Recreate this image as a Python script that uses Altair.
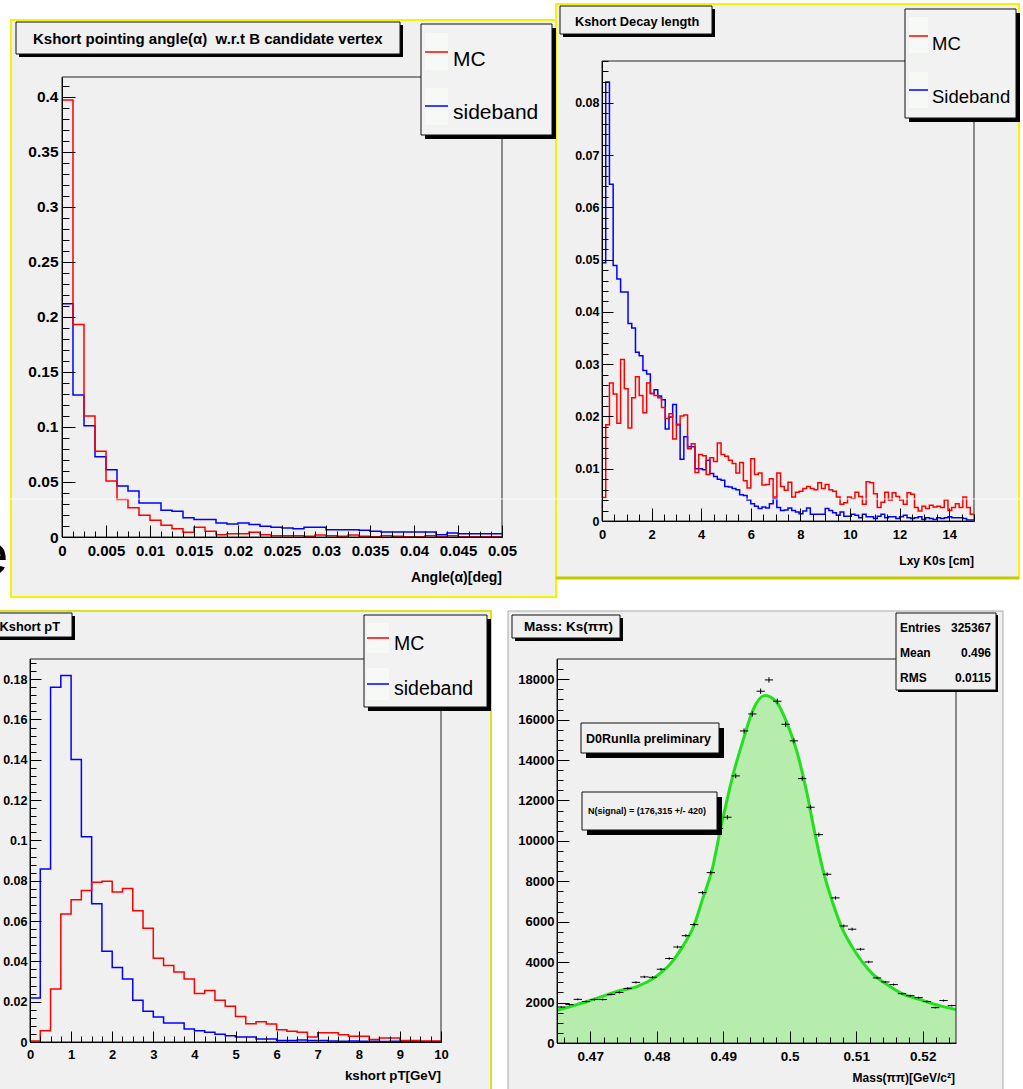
import altair as alt
import numpy as np
import pandas as pd

W, H = 1023, 1089
FONT = "Liberation Sans, Arial, sans-serif"
BG = "#f0f0f0"
YEL = "#f4f400"

# ---------------- Panel 1: Kshort pointing angle ----------------
P1_LO, P1_BIN = 0.0, 0.00125
p1_mc = [0.397, 0.193, 0.110, 0.078, 0.051, 0.034, 0.0265, 0.0198, 0.0152, 0.0107,
         0.0076, 0.0043, 0.0088, 0.0052, 0.0021, 0.0030, 0.0030, 0.0043, 0.0020, 0.0012,
         0.0012, 0.0012, 0.0006, 0.0018, 0.0012, 0.0006, 0.0018, 0.0006, 0.0003, 0.0012,
         0.0006, 0.0003, 0.0003, 0.0012, 0.0003, 0.0012, 0.0003, 0.0003, 0.0003, 0.0003]
p1_sb = [0.212, 0.129, 0.101, 0.073, 0.061, 0.0463, 0.0418, 0.031, 0.031, 0.0244,
         0.0235, 0.0174, 0.0159, 0.0159, 0.0128, 0.0119, 0.0128, 0.0113, 0.0098, 0.0088,
         0.0082, 0.0076, 0.0088, 0.0088, 0.0067, 0.0067, 0.0067, 0.0061, 0.0052, 0.0046,
         0.0046, 0.0046, 0.0046, 0.0046, 0.0021, 0.0037, 0.0030, 0.0030, 0.0030, 0.0030]
p1_xticks = [0, 0.005, 0.01, 0.015, 0.02, 0.025, 0.03, 0.035, 0.04, 0.045, 0.05]
p1_yticks = [0, 0.05, 0.1, 0.15, 0.2, 0.25, 0.3, 0.35, 0.4]
p1_xminor = np.round(np.arange(0, 0.05001, 0.00125), 6).tolist()
p1_yminor = np.round(np.arange(0, 0.4101, 0.01), 6).tolist()

# ---------------- Panel 2: Kshort decay length ----------------
P2_LO, P2_BIN = 0.0, 0.15
p2_mc = [0.0045, 0.0184, 0.0264, 0.0243, 0.0187, 0.0309, 0.0253, 0.0178, 0.0236, 0.0276,
         0.0240, 0.0207, 0.0264, 0.0244, 0.0240, 0.0236, 0.0217, 0.0196, 0.0205, 0.0157,
         0.0185, 0.0201, 0.0203, 0.0138, 0.0148, 0.0093, 0.0127, 0.0125, 0.0089, 0.0121,
         0.0114, 0.0149, 0.0127, 0.0124, 0.0116, 0.0110, 0.0092, 0.0112, 0.0077, 0.0063,
         0.0119, 0.0089, 0.0092, 0.0069, 0.0070, 0.0081, 0.0046, 0.0092, 0.0066, 0.0059,
         0.0074, 0.0046, 0.0055, 0.0057, 0.0062, 0.0066, 0.0062, 0.0060, 0.0073, 0.0062,
         0.0070, 0.0060, 0.0057, 0.0046, 0.0032, 0.0035, 0.0046, 0.0043, 0.0055, 0.0047,
         0.0032, 0.0075, 0.0073, 0.0052, 0.0026, 0.0036, 0.0055, 0.0040, 0.0054, 0.0047,
         0.0040, 0.0032, 0.0054, 0.0051, 0.0026, 0.0019, 0.0028, 0.0024, 0.0030, 0.0027,
         0.0028, 0.0026, 0.0040, 0.0020, 0.0026, 0.0033, 0.0026, 0.0046, 0.0026, 0.0013]
p2_sb = [0.0494, 0.0840, 0.0644, 0.0489, 0.0463, 0.0438, 0.0438, 0.0378, 0.0369, 0.0323,
         0.0316, 0.0288, 0.0281, 0.0244, 0.0251, 0.0239, 0.0232, 0.0176, 0.0199, 0.0223,
         0.0184, 0.0118, 0.0161, 0.0142, 0.0142, 0.0100, 0.0100, 0.0098, 0.0116, 0.0091,
         0.0085, 0.0080, 0.0078, 0.0066, 0.0065, 0.0062, 0.0060, 0.0050, 0.0049, 0.0040,
         0.0033, 0.0028, 0.0024, 0.0027, 0.0025, 0.0033, 0.0043, 0.0026, 0.0020, 0.0021,
         0.0025, 0.0020, 0.0017, 0.0014, 0.0019, 0.0025, 0.0013, 0.0013, 0.0013, 0.0013,
         0.0024, 0.0020, 0.0016, 0.0011, 0.0017, 0.0009, 0.0009, 0.0013, 0.0011, 0.0006,
         0.0013, 0.0008, 0.0008, 0.0005, 0.0009, 0.0013, 0.0006, 0.0008, 0.0008, 0.0005,
         0.0008, 0.0011, 0.0006, 0.0005, 0.0006, 0.0008, 0.0003, 0.0006, 0.0005, 0.0003,
         0.0006, 0.0005, 0.0006, 0.0008, 0.0006, 0.0006, 0.0006, 0.0005, 0.0002, 0.0002]
p2_xticks = [0, 2, 4, 6, 8, 10, 12, 14]
p2_yticks = [0, 0.01, 0.02, 0.03, 0.04, 0.05, 0.06, 0.07, 0.08]
p2_xminor = np.round(np.arange(0, 15.01, 0.5), 3).tolist()
p2_yminor = np.round(np.arange(0, 0.0881, 0.002), 4).tolist()

# ---------------- Panel 3: Kshort pT ----------------
P3_LO, P3_BIN = 0.0, 0.25
p3_mc = [0.0005, 0.0056, 0.0263, 0.0635, 0.0706, 0.0752, 0.0793, 0.0797, 0.0744, 0.0762,
         0.0651, 0.0564, 0.0415, 0.0379, 0.0347, 0.0312, 0.0241, 0.0256, 0.0207, 0.0177,
         0.0126, 0.0091, 0.0101, 0.0089, 0.0061, 0.0053, 0.0048, 0.0025, 0.0046, 0.0046,
         0.0036, 0.0028, 0.0028, 0.0012, 0.0020, 0.0020, 0.0007, 0.0007, 0.0005, 0.0005]
p3_sb = [0.0218, 0.0858, 0.1760, 0.1818, 0.1402, 0.1018, 0.0686, 0.0450, 0.0370, 0.0312,
         0.0207, 0.0152, 0.0124, 0.0094, 0.0094, 0.0064, 0.0056, 0.0048, 0.0038, 0.0031,
         0.0025, 0.0025, 0.0015, 0.0015, 0.0007, 0.0007, 0.0010, 0.0008, 0.0007, 0.0005,
         0.0004, 0.0005, 0.0004, 0.0004, 0.0003, 0.0004, 0.0003, 0.0003, 0.0003, 0.0003]
p3_xticks = [0, 1, 2, 3, 4, 5, 6, 7, 8, 9, 10]
p3_yticks = [0, 0.02, 0.04, 0.06, 0.08, 0.1, 0.12, 0.14, 0.16, 0.18]
p3_xminor = np.round(np.arange(0, 10.01, 0.25), 3).tolist()
p3_yminor = np.round(np.arange(0, 0.1881, 0.004), 4).tolist()

# ---------------- Panel 4: Ks mass ----------------
P4_LO, P4_BIN = 0.465, 0.00125
p4_counts = [1780, 1900, 2160, 2050, 2150, 2150, 2400, 2500, 2700, 3000,
             3270, 3250, 3650, 4180, 4750, 5310, 5860, 7440, 8430, 10610,
             11170, 13215, 15440, 16280, 17405, 17965, 16910, 15770, 14950, 13085,
             11665, 10310, 8350, 7180, 5790, 5630, 4640, 4010, 3220, 3020,
             2890, 2440, 2340, 2245, 2050, 1750, 2100, 1850]
p4_fit_mass = [0.465, 0.4675, 0.470, 0.4725, 0.4741, 0.4771, 0.4798, 0.4821, 0.4840,
               0.4855, 0.4870, 0.4883, 0.4895, 0.4905, 0.4915, 0.4930, 0.4945, 0.4963,
               0.4980, 0.4995, 0.5010, 0.5025, 0.5037, 0.5050, 0.5065, 0.5080, 0.5094,
               0.5109, 0.5124, 0.5144, 0.5169, 0.5200, 0.5225, 0.5250]
p4_fit_val = [1620, 1850, 2110, 2380, 2560, 2800, 3270, 3930, 4830,
              5740, 7230, 8550, 10450, 11930, 13300, 15000, 16500, 17200,
              16870, 15900, 14500, 12500, 10500, 8550, 6900, 5580, 4750,
              4010, 3430, 2940, 2440, 2110, 1850, 1650]
p4_xticks = [0.47, 0.48, 0.49, 0.5, 0.51, 0.52]
p4_yticks = [0, 2000, 4000, 6000, 8000, 10000, 12000, 14000, 16000, 18000]
p4_xminor = np.round(np.arange(0.466, 0.5251, 0.002), 4).tolist()
p4_yminor = list(range(0, 19000, 500))

# ---------------- geometry of the four frames ----------------
P1 = dict(l=62, r=502, t=77, b=537, xdom=[0, 0.05], ydom=[0, 0.418])
P2 = dict(l=602, r=974, t=61, b=521, xdom=[0, 15], ydom=[0, 0.088])
P3 = dict(l=30, r=441, t=659, b=1042, xdom=[0, 10], ydom=[0, 0.190])
P4 = dict(l=557, r=956, t=659, b=1043, xdom=[0.465, 0.525], ydom=[0, 19000])

ONE = pd.DataFrame({"k": [0]})


def xsc(p):
    return alt.Scale(domain=p["xdom"], range=[p["l"], p["r"]], nice=False, zero=False)


def ysc(p):
    return alt.Scale(domain=p["ydom"], range=[p["b"], p["t"]], nice=False, zero=False)


def xlab_axis(p, vals, fmt, size, pad):
    return alt.Axis(orient="bottom", offset=p["b"] - H, values=vals, format=fmt, grid=False,
                    ticks=False, domain=True, domainColor="black", domainWidth=1,
                    labelFont=FONT, labelFontSize=size, labelFontWeight="bold",
                    labelColor="black", labelPadding=pad, labelFlush=False,
                    labelOverlap=False, title=None, zindex=1)


def ylab_axis(p, vals, fmt, size, pad):
    return alt.Axis(orient="left", offset=-p["l"], values=vals, format=fmt, grid=False,
                    ticks=False, domain=True, domainColor="black", domainWidth=1,
                    labelFont=FONT, labelFontSize=size, labelFontWeight="bold",
                    labelColor="black", labelPadding=pad, labelFlush=False,
                    labelOverlap=False, title=None, zindex=1)


def xtick_axis(p, vals, size):
    return alt.Axis(orient="top", offset=-p["b"], values=vals, grid=False, labels=False,
                    domain=False, ticks=True, tickSize=size, tickColor="black",
                    tickWidth=1, title=None, zindex=1)


def ytick_axis(p, vals, size):
    return alt.Axis(orient="right", offset=p["l"] - W, values=vals, grid=False, labels=False,
                    domain=False, ticks=True, tickSize=size, tickColor="black",
                    tickWidth=1, title=None, zindex=1)


def hist_df(vals, lo, w):
    edges = lo + w * np.arange(len(vals) + 1)
    return pd.DataFrame({"x": edges, "y": list(vals) + [vals[-1]]})


def hist(vals, lo, w, p, color, xaxis, yaxis, opacity=1.0):
    return alt.Chart(hist_df(vals, lo, w)).mark_line(
        interpolate="step-after", color=color, strokeWidth=1.5, opacity=opacity
    ).encode(x=alt.X("x:Q", scale=xsc(p), axis=xaxis), y=alt.Y("y:Q", scale=ysc(p), axis=yaxis))


def rect(x1, y1, x2, y2, fill="transparent", stroke=None, sw=1.0, fo=1.0):
    kw = dict(fill=fill, fillOpacity=fo)
    if stroke:
        kw.update(stroke=stroke, strokeWidth=sw)
    return alt.Chart(ONE).mark_rect(**kw).encode(
        x=alt.value(x1), x2=alt.value(x2), y=alt.value(y1), y2=alt.value(y2))


def hline(x1, x2, y, color, sw, op=1.0):
    return alt.Chart(ONE).mark_rule(color=color, strokeWidth=sw, opacity=op).encode(
        x=alt.value(x1), x2=alt.value(x2), y=alt.value(y))


def text(s, x, y, size, weight="normal", align="left", font=FONT):
    return alt.Chart(ONE).mark_text(text=s, font=font, fontSize=size, fontWeight=weight,
                                    align=align, baseline="alphabetic", color="black").encode(
        x=alt.value(x), y=alt.value(y))


def pave(x1, y1, x2, y2, shadow=3, fill=BG, sw=1.0):
    return [rect(x1 + shadow, y1 + shadow, x2 + shadow, y2 + shadow, fill="black"),
            rect(x1, y1, x2, y2, fill=fill, stroke="#111111", sw=sw)]


def legend(box, sq1, sq2, y1, y2, tx, t1y, t2y, size, lab2):
    out = pave(*box, shadow=4, fill="#f2f2f2")
    out.append(rect(sq1[0], sq1[1], sq1[2], sq1[3], fill="#f6f9f6"))
    out.append(rect(sq2[0], sq2[1], sq2[2], sq2[3], fill="#f6f9f6"))
    out.append(hline(sq1[0], sq1[2], y1, "#ff0000", 1.5))
    out.append(hline(sq2[0], sq2[2], y2, "#0000ff", 1.5))
    out.append(text("MC", tx, t1y, size))
    out.append(text(lab2, tx, t2y, size))
    return out


layers = []
# canvases
layers += [rect(11, 20, 556, 597, fill=BG, stroke=YEL, sw=2)]
layers += [rect(556, 4, 1019, 578, fill=BG, stroke=YEL, sw=2), hline(556, 1019, 578, "#c8c800", 3)]
layers += [rect(-5, 611, 491, 1095, fill=BG, stroke="#e0e020", sw=2)]
layers += [rect(508, 611, 1003, 1095, fill=BG, stroke="#a8a8a8", sw=1)]
layers += [text("e", -24, 574, 58, font="Liberation Sans")]

# panel 1
layers += [
    hist(p1_sb, P1_LO, P1_BIN, P1, "#0000ff", xtick_axis(P1, p1_xticks, 12), ytick_axis(P1, p1_yticks, 13)),
    hist(p1_mc, P1_LO, P1_BIN, P1, "#ff0000", xlab_axis(P1, p1_xticks, "~g", 15, 6), ylab_axis(P1, p1_yticks, "~g", 15.5, 4)),
    hist(p1_mc, P1_LO, P1_BIN, P1, "#ff0000", xtick_axis(P1, p1_xminor, 6), ytick_axis(P1, p1_yminor, 7), opacity=0),
]
# panel 2
layers += [
    hist(p2_sb, P2_LO, P2_BIN, P2, "#0000ff", xtick_axis(P2, p2_xticks, 13), ytick_axis(P2, p2_yticks, 11)),
    hist(p2_mc, P2_LO, P2_BIN, P2, "#ff0000", xlab_axis(P2, p2_xticks, "d", 13, 7), ylab_axis(P2, p2_yticks, "~g", 12.5, 3)),
    hist(p2_mc, P2_LO, P2_BIN, P2, "#ff0000", xtick_axis(P2, p2_xminor, 7), ytick_axis(P2, p2_yminor, 6), opacity=0),
]
# panel 3
layers += [
    hist(p3_sb, P3_LO, P3_BIN, P3, "#0000ff", xtick_axis(P3, p3_xticks, 11), ytick_axis(P3, p3_yticks, 11)),
    hist(p3_mc, P3_LO, P3_BIN, P3, "#ff0000", xlab_axis(P3, p3_xticks, "d", 13, 6), ylab_axis(P3, p3_yticks, "~g", 12.5, 3)),
    hist(p3_mc, P3_LO, P3_BIN, P3, "#ff0000", xtick_axis(P3, p3_xminor, 6), ytick_axis(P3, p3_yminor, 6), opacity=0),
]
# panel 4
fit_df = pd.DataFrame({"m": p4_fit_mass, "v": p4_fit_val})
cnt = np.array(p4_counts, dtype=float)
lo = P4_LO + P4_BIN * np.arange(len(cnt))
pts_df = pd.DataFrame({"lo": lo, "hi": lo + P4_BIN, "c": lo + P4_BIN / 2, "v": cnt})
layers += [
    alt.Chart(fit_df).mark_area(interpolate="monotone", color="#b6ecac").encode(
        x=alt.X("m:Q", scale=xsc(P4), axis=xlab_axis(P4, p4_xticks, "~g", 13.5, 6)),
        y=alt.Y("v:Q", scale=ysc(P4), axis=ylab_axis(P4, p4_yticks, "d", 13, 3))),
    alt.Chart(fit_df).mark_line(interpolate="monotone", color="#22e01e", strokeWidth=3).encode(
        x=alt.X("m:Q", scale=xsc(P4), axis=xtick_axis(P4, p4_xticks, 12)),
        y=alt.Y("v:Q", scale=ysc(P4), axis=ytick_axis(P4, p4_yticks, 12))),
    alt.Chart(pts_df).mark_rule(color="black", strokeWidth=1).encode(
        x=alt.X("lo:Q", scale=xsc(P4), axis=xtick_axis(P4, p4_xminor, 6)),
        x2="hi:Q",
        y=alt.Y("v:Q", scale=ysc(P4), axis=ytick_axis(P4, p4_yminor, 6))),
    alt.Chart(pts_df).transform_calculate(
        e1="datum.v - sqrt(datum.v)", e2="datum.v + sqrt(datum.v)"
    ).mark_rule(color="black", strokeWidth=1).encode(
        x=alt.X("c:Q", scale=xsc(P4), axis=None),
        y=alt.Y("e1:Q", scale=ysc(P4), axis=None), y2="e2:Q"),
]

# frames
for p in (P1, P2, P3, P4):
    layers.append(rect(p["l"], p["t"], p["r"], p["b"], fill="transparent", stroke="#222222", sw=1))

# title boxes
layers += pave(16, 22, 400, 54, shadow=3)
layers.append(text("Kshort pointing angle(\u03b1)\u00a0 w.r.t B candidate vertex", 33, 44, 15, "bold"))
layers += pave(560, 6, 712, 34, shadow=3)
layers.append(text("Kshort Decay length", 575, 26, 12.8, "bold"))
layers += pave(-10, 613, 72, 637, shadow=3)
layers.append(text("Kshort pT", 60, 631, 12.8, "bold", align="right"))
layers += pave(512, 615, 620, 638, shadow=3)
layers.append(text("Mass: Ks(\u03c0\u03c0)", 524, 631, 13.5, "bold"))

# legends
layers += legend((421, 24, 552, 135), (425, 33, 448, 70), (425, 88, 448, 125), 52, 106, 453, 66, 119, 21, "sideband")
layers += legend((905, 9, 1016, 118), (909, 17, 928, 53), (909, 72, 928, 108), 36, 90, 932, 50, 103, 18.5, "Sideband")
layers += legend((364, 615, 487, 707), (367, 623, 389, 653), (367, 668, 389, 700), 638, 684, 394, 650, 695, 19.5, "sideband")

# stats box
layers += pave(896, 613, 996, 690, shadow=2)
stat_names = ["Entries", "Mean", "RMS"]
stat_vals = ["325367", "0.496", "0.0115"]
for i, (n, v) in enumerate(zip(stat_names, stat_vals)):
    layers.append(text(n, 900, 632 + 25 * i, 12, "bold"))
    layers.append(text(v, 991, 632 + 25 * i, 12, "bold", align="right"))

# annotation boxes
layers += pave(581, 723, 719, 753, shadow=5)
layers.append(text("D0RunIIa preliminary", 586, 743, 12.5, "bold"))
layers += pave(582, 792, 717, 830, shadow=5)
layers.append(text("N(signal) = (176,315 +/- 420)", 588, 814, 9, "bold"))

# axis titles
layers.append(text("Angle(\u03b1)[deg]", 502, 582, 14, "bold", align="right"))
layers.append(text("Lxy K0s [cm]", 974, 565, 12, "bold", align="right"))
layers.append(text("kshort pT[GeV]", 441, 1080, 13.3, "bold", align="right"))
layers.append(text("Mass(\u03c0\u03c0)[GeV/c\u00b2]", 955, 1082, 12, "bold", align="right"))

# faint seam line across the top panels
layers.append(hline(0, 1023, 499, "white", 1, 0.8))

chart = alt.layer(*layers).resolve_scale(
    x="independent", y="independent"
).resolve_axis(
    x="independent", y="independent"
).properties(
    width=W, height=H, autosize=alt.AutoSizeParams(type="none"), padding=0, background="white"
).configure_view(strokeWidth=0)

chart.save("out.html", embed_options={"renderer": "svg", "actions": False})
